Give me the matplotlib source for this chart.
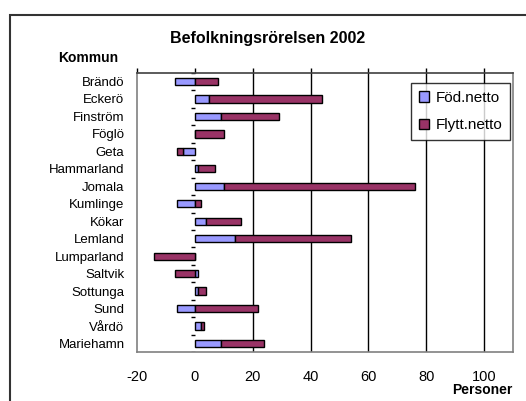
import matplotlib
matplotlib.use("Agg")
import matplotlib.pyplot as plt
from matplotlib.patches import Patch, Rectangle
import numpy as np

plt.rcParams['font.family'] = ['Liberation Sans', 'DejaVu Sans']

kommuner = ["Brändö", "Eckerö", "Finström", "Föglö", "Geta", "Hammarland", "Jomala",
            "Kumlinge", "Kökar", "Lemland", "Lumparland", "Saltvik", "Sottunga",
            "Sund", "Vårdö", "Mariehamn"]
fod_netto = [-7, 5, 9, 0, -4, 1, 10, -6, 4, 14, 0, 1, 1, -6, 2, 9]
flytt_netto = [8, 39, 20, 10, -2, 6, 66, 2, 12, 40, -14, -7, 3, 22, 1, 15]
xticks = [-20, 0, 20, 40, 60, 80, 100]

fig = plt.figure(figsize=(5.26, 4.01), dpi=100)
ax = fig.add_axes([137/526, 1-352.3/401, 376/526, 279.6/401])

y = np.arange(len(kommuner))
fod = np.array(fod_netto, dtype=float)
fly = np.array(flytt_netto, dtype=float)
left_fly = np.where(fly >= 0, np.maximum(fod, 0), np.minimum(fod, 0))

h = 0.42
ax.barh(y, fod, height=h, color='#9999FF', edgecolor='black', linewidth=1, zorder=3)
ax.barh(y, fly, left=left_fly, height=h, color='#993366', edgecolor='black', linewidth=1, zorder=3)

# category tick marks on the axis at x = 0
for b in np.arange(len(kommuner) + 1) - 0.5:
    ax.plot([-1.3, 0], [b, b], color='black', lw=1, zorder=2, solid_capstyle='butt')

for g in xticks[2:]:
    ax.axvline(g, color='black', lw=1, zorder=1)

ax.set_xlim(-20, 110)
ax.set_ylim(len(kommuner) - 0.5, -0.5)
ax.set_yticks(y)
ax.set_yticklabels(kommuner, fontsize=9.5)
ax.set_xticks(xticks)
ax.set_xticklabels([str(v) for v in xticks], fontsize=10.5)
ax.tick_params(axis='y', length=0, pad=9)
ax.tick_params(axis='x', bottom=False, top=True, labelbottom=True, labeltop=False,
               direction='out', length=3.5, width=1, color='black', pad=9.5)
for s in ['left', 'bottom', 'right']:
    ax.spines[s].set_color('#808080')
    ax.spines[s].set_linewidth(1.2)
ax.spines['top'].set_color('#404040')
ax.spines['top'].set_linewidth(1.2)

handles = [Patch(facecolor='#9999FF', edgecolor='black', label='Föd.netto'),
           Patch(facecolor='#993366', edgecolor='black', label='Flytt.netto')]
leg = ax.legend(handles=handles, loc='upper left', bbox_to_anchor=(0.729, 0.963),
                fontsize=11, frameon=True, fancybox=False, edgecolor='black',
                handlelength=0.7, handleheight=0.7, handletextpad=0.4,
                labelspacing=0.9, borderpad=0.5, borderaxespad=0)
leg.get_frame().set_linewidth(1)
leg.set_zorder(5)

fig.text(268/526, 1-38/401, "Befolkningsrörelsen 2002", ha='center', va='center',
         fontsize=11.5, fontweight='bold')
fig.text(88/526, 1-58/401, "Kommun", ha='center', va='center', fontsize=10, fontweight='bold')
fig.text(452/526, 1-390/401, "Personer", ha='left', va='center', fontsize=10, fontweight='bold')

fig.patches.append(Rectangle((10/526, -0.1), 1.2, 1-15/401+0.1, transform=fig.transFigure,
                             fill=False, edgecolor='#333333', lw=1.5, zorder=0))

fig.savefig("out.png", dpi=100)
